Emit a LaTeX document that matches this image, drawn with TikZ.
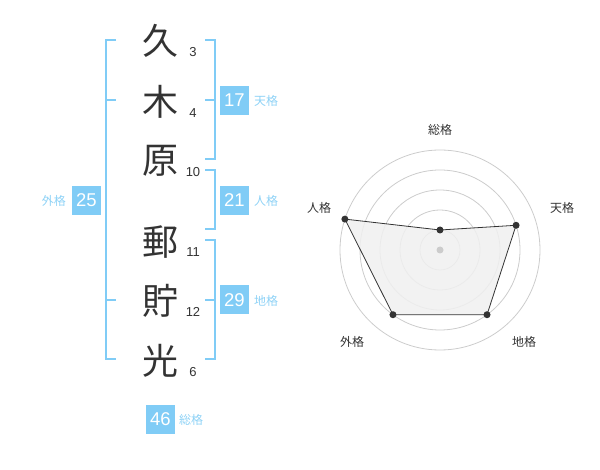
\documentclass[tikz,border=0pt]{standalone}
\usepackage{fontspec}
\setmainfont{Liberation Sans}
\newfontfamily\jpfont{Noto Sans CJK JP}
\definecolor{kblue}{HTML}{80CCF6}
\definecolor{klabel}{HTML}{8ED2F6}
\definecolor{kdark}{HTML}{333333}
\definecolor{kgrid}{HTML}{CCCCCC}
\definecolor{kfill}{HTML}{F0F0F0}
\tikzset{
  kanji/.style={font=\jpfont\fontsize{36}{36}\selectfont, text=kdark, inner sep=0pt, anchor=center},
  stroke/.style={font=\fontsize{13}{13}\selectfont, text=kdark, inner sep=0pt, anchor=center},
  valbox/.style={fill=kblue, text=white, minimum width=29pt, minimum height=29pt, inner sep=0pt, font=\fontsize{18.5}{18.5}\selectfont},
  kaku/.style={font=\jpfont\fontsize{12}{12}\selectfont, text=klabel, inner sep=0pt},
  bracket/.style={draw=kblue, line width=1.8pt},
  grid/.style={draw=kgrid, line width=0.8pt},
  axislabel/.style={font=\jpfont\fontsize{12}{12}\selectfont, text=kdark, inner sep=0pt},
  dot/.style={circle, fill=kdark, inner sep=0pt, minimum size=7pt},
}
\begin{document}
\begin{tikzpicture}[x=1pt,y=-1pt]
\useasboundingbox (0,0) rectangle (600,470);
% kanji
\node[kanji] (k1) at (160,41) {久};
\node[kanji] (k2) at (160,102) {木};
\node[kanji] (k3) at (160,161) {原};
\node[kanji] (k4) at (160,242) {郵};
\node[kanji] (k5) at (160,301) {貯};
\node[kanji] (k6) at (160,361) {光};
% strokes
\node[stroke] (s1) at (193,52) {3};
\node[stroke] (s2) at (193,113) {4};
\node[stroke] (s3) at (193,172) {10};
\node[stroke] (s4) at (193,252) {11};
\node[stroke] (s5) at (193,312) {12};
\node[stroke] (s6) at (193,372) {6};
% brackets
\draw[bracket] (116,40) -- (106,40) -- (106,359) -- (116,359);
\draw[bracket] (106,100) -- (116,100);
\draw[bracket] (106,300) -- (116,300);
\draw[bracket] (205,40) -- (215,40) -- (215,159) -- (205,159);
\draw[bracket] (205,100) -- (215,100);
\draw[bracket] (205,170) -- (215,170) -- (215,229) -- (205,229);
\draw[bracket] (205,240) -- (215,240) -- (215,359) -- (205,359);
\draw[bracket] (205,300) -- (215,300);
% value boxes
\node[valbox] (v17) at (234.5,100.5) {17};
\node[kaku, anchor=west] (l17) at (254,101) {天格};
\node[valbox] (v21) at (234.5,200.5) {21};
\node[kaku, anchor=west] (l21) at (254,201) {人格};
\node[valbox] (v29) at (234.5,300) {29};
\node[kaku, anchor=west] (l29) at (254,301) {地格};
\node[valbox] (v25) at (86.5,200.5) {25};
\node[kaku, anchor=east] (l25) at (66,201) {外格};
\node[valbox] (v46) at (160.5,419) {46};
\node[kaku, anchor=west] (l46) at (179,420) {総格};
% radar
\coordinate (c) at (440,250);
\foreach \r in {20,40,60,80,100} \draw[grid] (c) circle[radius=\r];
\coordinate (p1) at (440,230);
\coordinate (p2) at (516.08,225.28);
\coordinate (p3) at (487.02,314.72);
\coordinate (p4) at (392.98,314.72);
\coordinate (p5) at (344.89,219.10);
\fill[kfill, opacity=0.85] (p1) -- (p2) -- (p3) -- (p4) -- (p5) -- cycle;
\draw[kdark, line width=0.8pt] (p1) -- (p2) -- (p3) -- (p4) -- (p5) -- cycle;
\node[circle, fill=kgrid, inner sep=0pt, minimum size=7pt] (cd) at (c) {};
\foreach \p in {p1,p2,p3,p4,p5} \node[dot] (d\p) at (\p) {};
\node[axislabel] (a1) at (440,130) {総格};
\node[axislabel] (a2) at (562,208) {天格};
\node[axislabel] (a3) at (524,342) {地格};
\node[axislabel] (a4) at (352,342) {外格};
\node[axislabel] (a5) at (319,208) {人格};
\end{tikzpicture}
\end{document}
